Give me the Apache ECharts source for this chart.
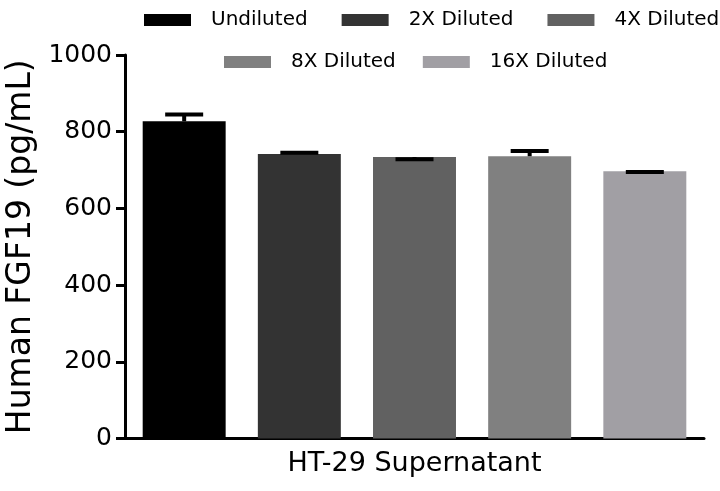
<!DOCTYPE html>
<html>
<head>
<meta charset="utf-8">
<script src="https://cdn.jsdelivr.net/npm/echarts@6/dist/echarts.min.js"></script>
<style>html,body{margin:0;padding:0;background:#fff}#c{width:720px;height:491px}</style>
</head>
<body>
<div id="c"></div>
<script>
var categories = ['HT-29 Supernatant'];
var seriesNames = ['Undiluted', '2X Diluted', '4X Diluted', '8X Diluted', '16X Diluted'];
var means = [827, 742, 734, 736, 697];
var errorCaps = [845, 745, 728, 750, 695];
var yTicks = [0, 200, 400, 600, 800, 1000];
var colors = ['#000000', '#333333', '#616161', '#808080', '#a19fa4'];

var FONT = 'DejaVu Sans';
var BAR_W = 0.1433, BAR_GAP = 0.388;

var series = seriesNames.map(function (n, i) {
  return {
    name: n, type: 'bar', data: [means[i]],
    barWidth: (BAR_W * 100) + '%', barGap: (BAR_GAP * 100) + '%',
    itemStyle: { color: colors[i] }, z: 2
  };
});
series.push({
  type: 'custom', z: 5, silent: true,
  data: seriesNames.map(function (n, i) { return [0, means[i], errorCaps[i], i]; }),
  renderItem: function (params, api) {
    var g = api.value(3);
    var band = api.size([1, 0])[0];
    var spacing = band * BAR_W * (1 + BAR_GAP);
    var c = api.coord([0, api.value(1)]);
    var t = api.coord([0, api.value(2)]);
    var x = c[0] + (g - (seriesNames.length - 1) / 2) * spacing;
    var hw = 19;
    var style = { stroke: '#000', lineWidth: 4, fill: null };
    return { type: 'group', children: [
      { type: 'line', shape: { x1: x, y1: c[1], x2: x, y2: t[1] }, style: style },
      { type: 'line', shape: { x1: x - hw, y1: t[1], x2: x + hw, y2: t[1] }, style: style }
    ]};
  }
});

var legendText = { fontFamily: FONT, fontSize: 20, color: '#000', padding: [0, 0, 0, 15] };
var chart = echarts.init(document.getElementById('c'));
chart.setOption({
  animation: false,
  backgroundColor: '#fff',
  legend: [
    { data: seriesNames.slice(0, 3), left: 139, top: 5, width: 620, itemWidth: 47, itemHeight: 12, itemGap: 34,
      icon: 'rect', textStyle: legendText, selectedMode: false },
    { data: seriesNames.slice(3), left: 219, top: 47, width: 500, itemWidth: 47, itemHeight: 12, itemGap: 27,
      icon: 'rect', textStyle: legendText, selectedMode: false }
  ],
  grid: { left: 125, right: 16, top: 55, bottom: 52.5, containLabel: false, outerBoundsMode: 'none' },
  xAxis: {
    type: 'category', data: categories,
    axisLine: { lineStyle: { color: '#000', width: 3 } },
    axisTick: { alignWithLabel: true, length: 9, lineStyle: { width: 3, color: '#000' } },
    axisLabel: { fontFamily: FONT, fontSize: 27, color: '#000', margin: 12 }
  },
  yAxis: {
    type: 'value', min: 0, max: 1000, interval: 200,
    name: 'Human FGF19 (pg/mL)', nameLocation: 'middle', nameGap: 85,
    nameTextStyle: { fontFamily: FONT, fontSize: 33, color: '#000' },
    axisLine: { show: true, lineStyle: { color: '#000', width: 3 } },
    axisTick: { show: true, length: 9, lineStyle: { width: 3, color: '#000' } },
    axisLabel: { fontFamily: FONT, fontSize: 25, color: '#000', margin: 13,
      formatter: function (v) { return yTicks.indexOf(v) >= 0 ? String(v) : ''; } },
    splitLine: { show: false }
  },
  series: series
});
</script>
</body>
</html>
